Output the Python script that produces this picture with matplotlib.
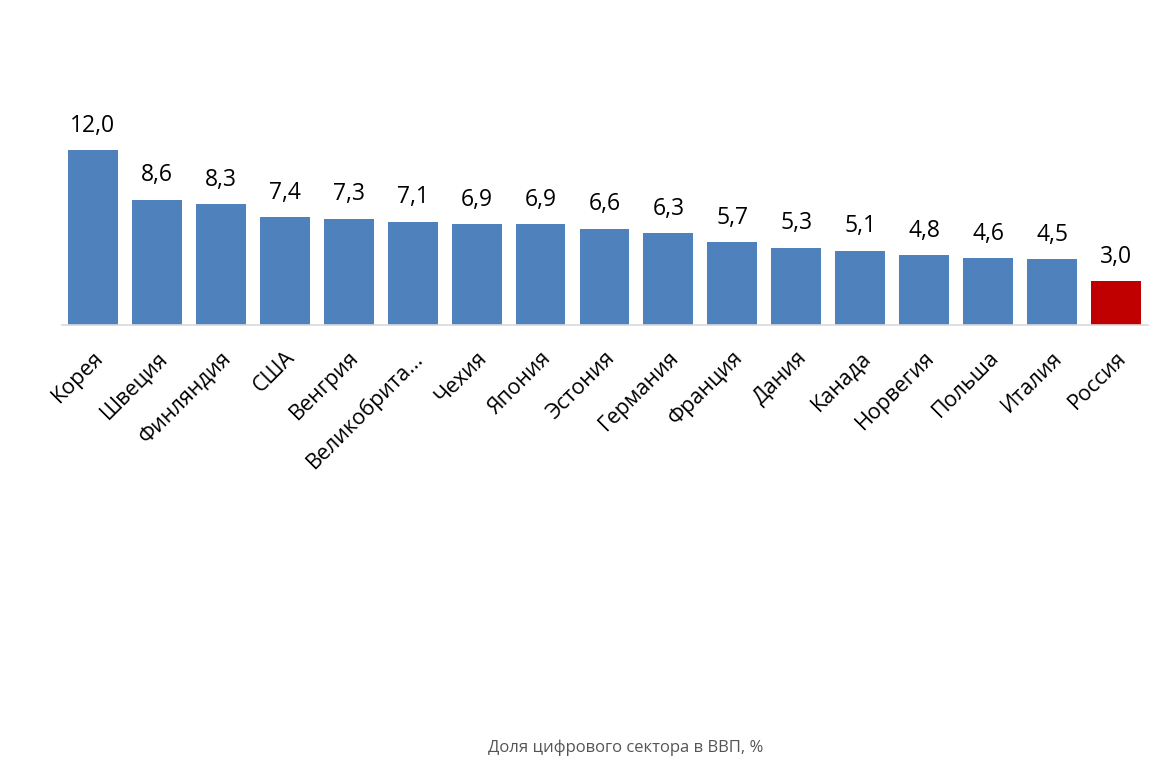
import matplotlib.pyplot as plt

countries = ["Корея", "Швеция", "Финляндия", "США", "Венгрия", "Великобрита...",
             "Чехия", "Япония", "Эстония", "Германия", "Франция", "Дания",
             "Канада", "Норвегия", "Польша", "Италия", "Россия"]
shares = [12.0, 8.6, 8.3, 7.4, 7.3, 7.1, 6.9, 6.9, 6.6, 6.3, 5.7, 5.3, 5.1, 4.8, 4.6, 4.5, 3.0]
highlight = "Россия"

plt.rcParams["font.family"] = ["Open Sans", "DejaVu Sans"]

fig = plt.figure(figsize=(11.67, 7.62), dpi=100)
ax = fig.add_axes([0.0531, 0.5735, 0.9306, 0.2678])

colors = ["#c00000" if c == highlight else "#4f81bd" for c in countries]
x = list(range(len(countries)))
ax.bar(x, shares, width=0.78, color=colors)

for xi, v in zip(x, shares):
    ax.text(xi, v + 0.85, f"{v:.1f}".replace(".", ","), ha="center", va="bottom",
            fontsize=16.5, color="#000000")

ax.set_xlim(-0.485, len(countries) - 0.5)
ax.set_ylim(0, 14)
ax.set_xticks(x)
ax.set_xticklabels(countries, rotation=45, ha="right", rotation_mode="anchor",
                   fontsize=15.5)
ax.tick_params(axis="x", length=0, pad=16)
ax.set_yticks([])
for s in ["top", "right", "left"]:
    ax.spines[s].set_visible(False)
ax.spines["bottom"].set_color("#d9d9d9")
ax.spines["bottom"].set_linewidth(1.2)

fig.text(0.5365, 0.0184, "Доля цифрового сектора в ВВП, %", ha="center", va="center",
         fontsize=12, color="#555555")

fig.savefig("out.png", dpi=100)
